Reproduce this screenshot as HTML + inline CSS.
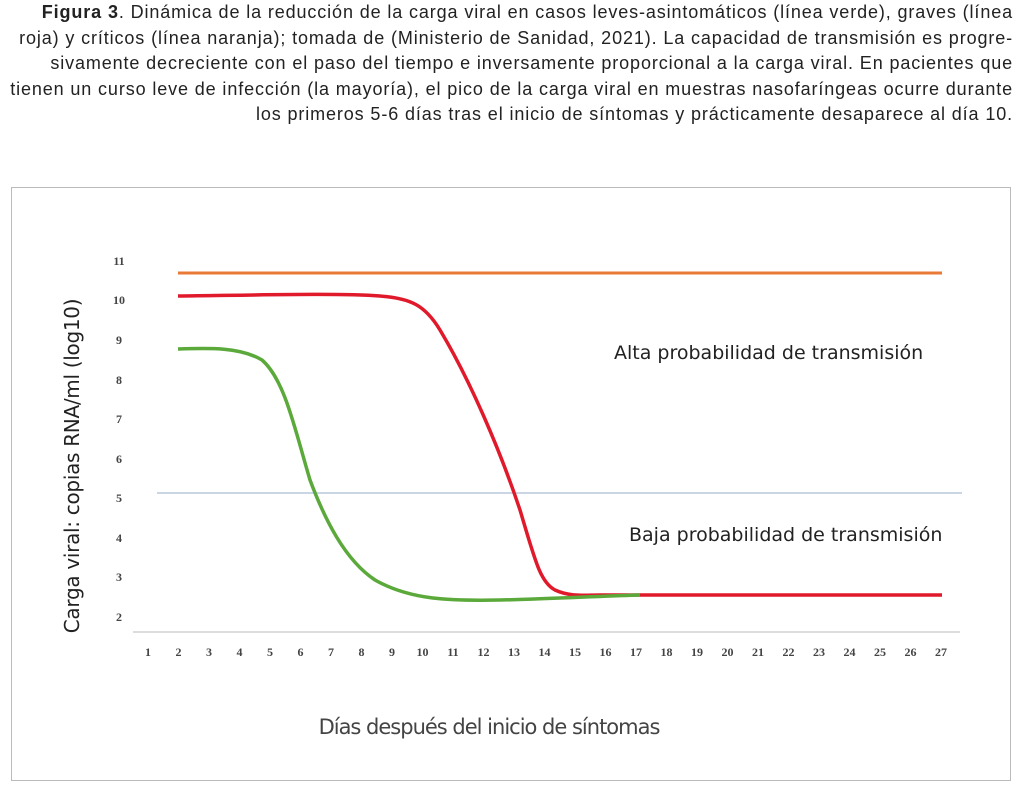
<!DOCTYPE html>
<html><head><meta charset="utf-8"><style>
body{margin:0;width:1024px;height:802px;background:#fff;font-family:"Liberation Sans",sans-serif;overflow:hidden;position:relative}
.cap{position:absolute;top:0;left:0;width:1013px;text-align:right;font-size:18px;letter-spacing:0.88px;line-height:25.5px;color:#222;white-space:nowrap}
.box{position:absolute;left:11px;top:187px;width:1000px;height:594px;border:1px solid #bbb;box-sizing:border-box}
</style></head><body>
<div class="cap"><b>Figura 3</b>. Dinámica de la reducción de la carga viral en casos leves-asintomáticos (línea verde), graves (línea<br>roja) y críticos (línea naranja); tomada de (Ministerio de Sanidad, 2021). La capacidad de transmisión es progre-<br>sivamente decreciente con el paso del tiempo e inversamente proporcional a la carga viral. En pacientes que<br>tienen un curso leve de infección (la mayoría), el pico de la carga viral en muestras nasofaríngeas ocurre durante<br>los primeros 5-6 días tras el inicio de síntomas y prácticamente desaparece al día 10.</div>
<div class="box"></div>
<svg width="1024" height="802" style="position:absolute;left:0;top:0" font-family="Liberation Serif, serif">
<line x1="133" y1="632" x2="960" y2="632" stroke="#ddd" stroke-width="2"/>
<g font-size="12" font-weight="bold" fill="#444" text-anchor="middle">
<text x="119" y="265">11</text><text x="119" y="304">10</text><text x="119" y="344">9</text><text x="119" y="384">8</text><text x="119" y="423">7</text><text x="119" y="463">6</text><text x="119" y="502">5</text><text x="119" y="542">4</text><text x="119" y="581">3</text><text x="119" y="621">2</text>
<text x="148" y="656">1</text><text x="178.5" y="656">2</text><text x="209" y="656">3</text><text x="239.5" y="656">4</text><text x="270" y="656">5</text><text x="300.5" y="656">6</text><text x="331" y="656">7</text><text x="361.5" y="656">8</text><text x="392" y="656">9</text><text x="422.5" y="656">10</text><text x="453" y="656">11</text><text x="483.5" y="656">12</text><text x="514" y="656">13</text><text x="544.5" y="656">14</text><text x="575" y="656">15</text><text x="605.5" y="656">16</text><text x="636" y="656">17</text><text x="666.5" y="656">18</text><text x="697" y="656">19</text><text x="727.5" y="656">20</text><text x="758" y="656">21</text><text x="788.5" y="656">22</text><text x="819" y="656">23</text><text x="849.5" y="656">24</text><text x="880" y="656">25</text><text x="910.5" y="656">26</text><text x="941" y="656">27</text>
</g>
<line x1="157" y1="493" x2="962" y2="493" stroke="#b8c8dc" stroke-width="1.5"/>
<line x1="178" y1="273" x2="942" y2="273" stroke="#e87a35" stroke-width="3"/>
<path d="M178 296 C260 295 340 293 380 296 C410 298 425 305 440 330 C470 380 500 450 520 510 C535 560 540 582 555 590 C570 597 585 595 600 595 L942 595" fill="none" stroke="#e0192b" stroke-width="3.5"/>
<path d="M178 349 C210 348 240 347 262 360 C285 380 295 430 310 480 C325 520 345 560 375 580 C410 600 450 601 500 600 C550 599 600 596 640 595" fill="none" stroke="#5aa93a" stroke-width="3.5"/>
<g font-family="DejaVu Sans, sans-serif" fill="#222" font-size="19">
<text x="614" y="359">Alta probabilidad de transmisión</text>
<text x="629" y="541">Baja probabilidad de transmisión</text>
</g>
<text x="79" y="466" transform="rotate(-90 79 466)" text-anchor="middle" font-family="DejaVu Sans, sans-serif" font-size="20" fill="#222" letter-spacing="-0.3">Carga viral: copias RNA/ml (log10)</text>
<text x="489" y="734" text-anchor="middle" font-family="DejaVu Sans, sans-serif" font-size="21" fill="#444" letter-spacing="-1">Días después del inicio de síntomas</text>
</svg>
</body></html>
